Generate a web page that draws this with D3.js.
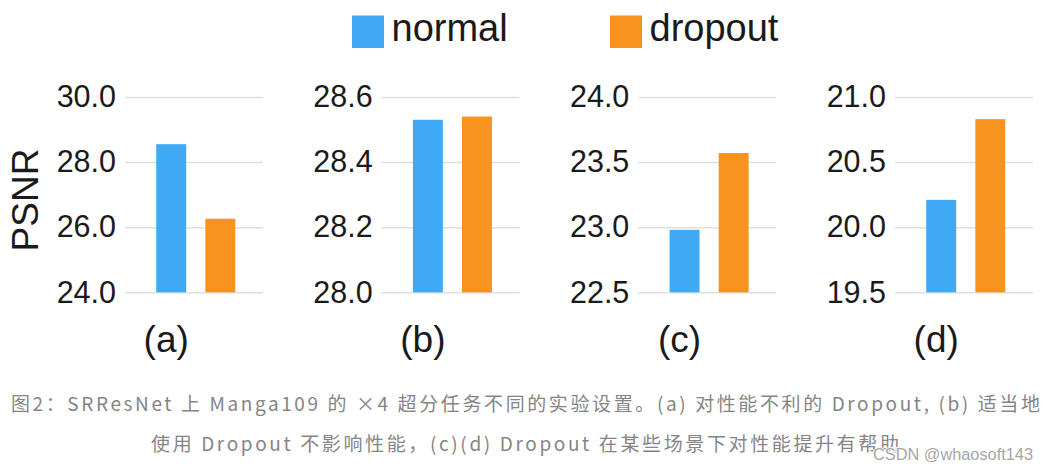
<!DOCTYPE html>
<html>
<head>
<meta charset="utf-8">
<script src="https://cdn.jsdelivr.net/npm/d3@7/dist/d3.min.js"></script>
<style>
  html, body { margin: 0; padding: 0; background: #fff; }
  svg { display: block; }
</style>
</head>
<body>
<svg id="chart" width="1048" height="470"></svg>
<script>
// ---- data ----
const panels = ["(a)", "(b)", "(c)", "(d)"];
const series = ["normal", "dropout"];
const normalValues = [28.55, 28.53, 22.98, 20.21];
const dropoutValues = [26.26, 28.54, 23.57, 20.83];
const yDomains = [[24, 30], [28, 28.6], [22.5, 24], [19.5, 21]];
const tickValues = [
  [24, 26, 28, 30],
  [28, 28.2, 28.4, 28.6],
  [22.5, 23, 23.5, 24],
  [19.5, 20, 20.5, 21]
];
const tickLabels = [
  ["24.0", "26.0", "28.0", "30.0"],
  ["28.0", "28.2", "28.4", "28.6"],
  ["22.5", "23.0", "23.5", "24.0"],
  ["19.5", "20.0", "20.5", "21.0"]
];
const yLabel = "PSNR";
const captionLines = [
  "图2：SRResNet 上 Manga109 的 ×4 超分任务不同的实验设置。(a) 对性能不利的 Dropout, (b) 适当地",
  "使用 Dropout 不影响性能，(c)(d) Dropout 在某些场景下对性能提升有帮助"
];
const watermark = "CSDN @whaosoft143";

// ---- styles ----
const colors = { normal: "#3fa9f5", dropout: "#f7931e" };
const latinFont = "'Liberation Sans', Arial, sans-serif";
const cjkFont = "'Noto Sans CJK SC', 'Noto Sans', sans-serif";

const svg = d3.select("#chart");

// panel placement
const panelX = d3.scalePoint().domain(panels).range([125, 895]);
const panelW = 138;
const yRange = [292.3, 97];

panels.forEach((p, i) => {
  const g = svg.append("g").attr("transform", `translate(${panelX(p)},0)`);
  const y = d3.scaleLinear().domain(yDomains[i]).range(yRange);
  const x = d3.scaleBand().domain(series).range([0, panelW])
    .paddingInner(0.39).paddingOuter(0.6).align(0.53);

  const axis = d3.axisLeft(y)
    .tickValues(tickValues[i])
    .tickFormat((d, k) => tickLabels[i][k])
    .tickSizeInner(-panelW)
    .tickSizeOuter(0)
    .tickPadding(9);

  const ag = g.append("g").call(axis);
  ag.select(".domain").remove();
  ag.selectAll(".tick line").attr("stroke", "#e0e0e0").attr("stroke-width", 1.5);
  ag.selectAll(".tick text")
    .attr("fill", "#1a1a1a")
    .style("font-family", latinFont)
    .style("font-size", "30.5px");

  const vals = [normalValues[i], dropoutValues[i]];
  g.selectAll("rect.bar")
    .data(series.map((s, k) => ({ s, v: vals[k] })))
    .join("rect")
    .attr("class", "bar")
    .attr("x", d => x(d.s))
    .attr("width", x.bandwidth())
    .attr("y", d => y(d.v))
    .attr("height", d => y(yDomains[i][0]) - y(d.v))
    .attr("fill", d => colors[d.s]);

  g.append("text")
    .attr("x", x("normal") + x.bandwidth() / 2 - 5)
    .attr("y", 352)
    .attr("text-anchor", "middle")
    .attr("fill", "#1a1a1a")
    .style("font-family", latinFont)
    .style("font-size", "37px")
    .text(p);
});

// y label
svg.append("text")
  .attr("transform", "translate(38,200) rotate(-90)")
  .attr("text-anchor", "middle")
  .attr("fill", "#1a1a1a")
  .style("font-family", latinFont)
  .style("font-size", "37px")
  .text(yLabel);

// legend
const legendX = [352, 610];
series.forEach((s, k) => {
  svg.append("rect")
    .attr("x", legendX[k]).attr("y", 15.5)
    .attr("width", 32).attr("height", 32.5)
    .attr("fill", colors[s]);
  svg.append("text")
    .attr("x", legendX[k] + 39.5).attr("y", 41)
    .attr("fill", "#1a1a1a")
    .style("font-family", latinFont)
    .style("font-size", "38px")
    .text(s);
});

// caption
const capPos = [{ x: 11, y: 411, len: 1029 }, { x: 151, y: 451, len: 748 }];
captionLines.forEach((t, k) => {
  svg.append("text")
    .attr("x", capPos[k].x).attr("y", capPos[k].y)
    .attr("textLength", capPos[k].len)
    .attr("lengthAdjust", "spacing")
    .attr("fill", "#858585")
    .style("font-family", cjkFont)
    .style("font-size", "19px")
    .text(t);
});

// watermark
svg.append("text")
  .attr("x", 873).attr("y", 460)
  .attr("textLength", 160)
  .attr("lengthAdjust", "spacingAndGlyphs")
  .attr("fill", "#a6a6a6")
  .attr("stroke", "#ffffff").attr("stroke-width", 2)
  .attr("paint-order", "stroke")
  .style("font-family", latinFont)
  .style("font-size", "16px")
  .text(watermark);
</script>
</body>
</html>
